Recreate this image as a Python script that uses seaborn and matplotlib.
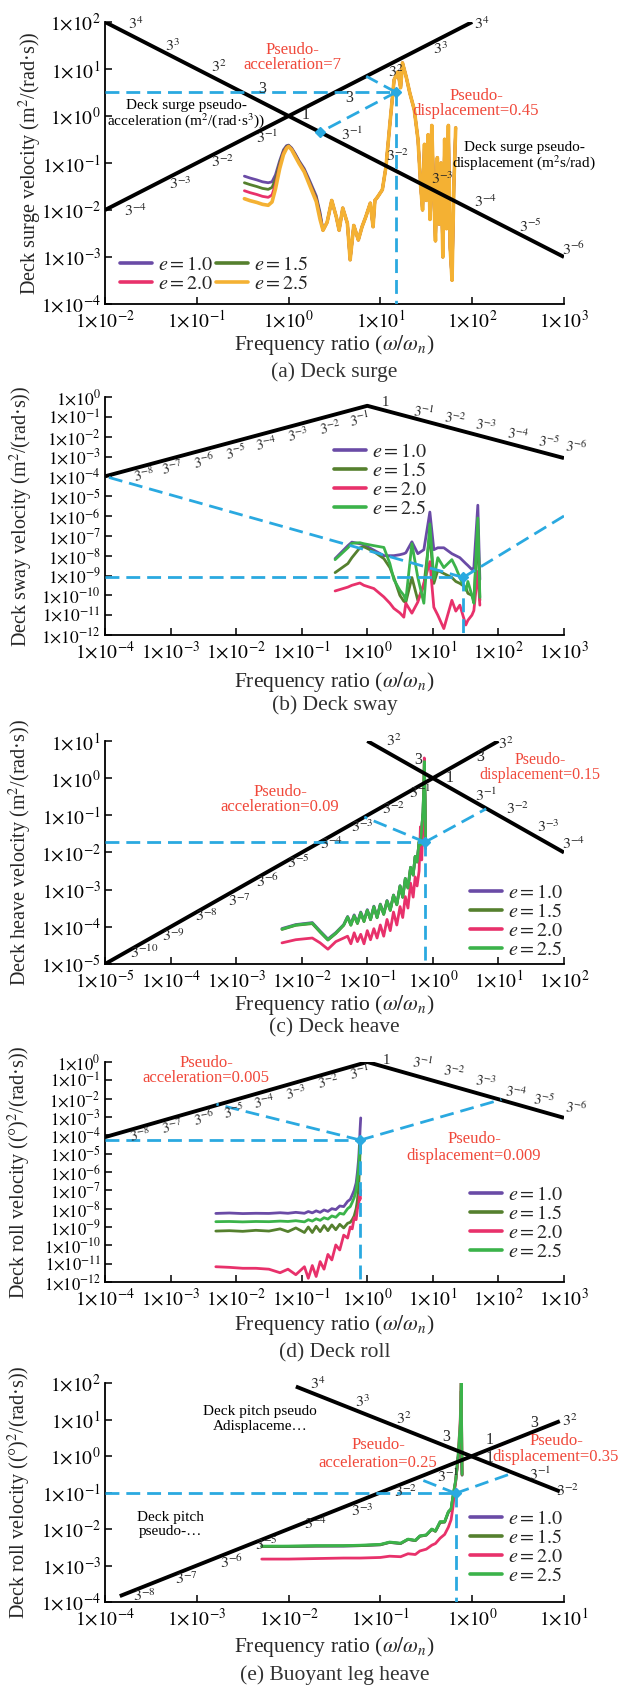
import numpy as np
import pandas as pd
import matplotlib
matplotlib.use("Agg")
import matplotlib.pyplot as plt
import seaborn as sns
from matplotlib.ticker import NullLocator

# ---------------------------------------------------------------- data
E_LEVELS = ["1.0", "1.5", "2.0", "2.5"]

# (a) Deck surge -- low-frequency part (per series) + shared high part
surge_x_low = [0.33, 0.38, 0.45, 0.52, 0.60, 0.66, 0.72, 0.80, 0.88, 0.95, 1.0,
               1.08, 1.18, 1.3, 1.48, 1.7, 2.0, 2.2]
surge_e10_low = [0.0525, 0.0479, 0.0437, 0.0398, 0.0380, 0.0398, 0.0562, 0.112, 0.191,
                 0.234, 0.240, 0.209, 0.158, 0.112, 0.0759, 0.0417, 0.0200, 0.00891]
surge_e15_low = [0.0380, 0.0347, 0.0316, 0.0288, 0.0275, 0.0302, 0.0447, 0.100, 0.178,
                 0.224, 0.234, 0.200, 0.151, 0.107, 0.0708, 0.0380, 0.0182, 0.00794]
surge_e20_low = [0.0257, 0.0234, 0.0214, 0.0195, 0.0186, 0.0209, 0.0355, 0.0871, 0.166,
                 0.214, 0.229, 0.195, 0.145, 0.102, 0.0676, 0.0355, 0.0166, 0.00708]
surge_e25_low = [0.0174, 0.0158, 0.0145, 0.0132, 0.0126, 0.0148, 0.0282, 0.0759, 0.151,
                 0.204, 0.224, 0.191, 0.138, 0.0977, 0.0646, 0.0331, 0.0151, 0.00631]
surge_x_tail = [2.37, 2.63, 2.95, 3.31, 3.55, 3.89, 4.37, 4.68, 5.13, 5.75, 6.31, 6.92,
                7.76, 8.32, 8.71, 9.33, 10.5, 11.5, 12.6, 14.1, 15.5, 16.6, 17.4, 19.1,
                20.9, 23.4, 25.7, 27.5, 28.8, 30.2, 31.6, 33.1, 34.7, 36.3, 38.0, 39.8,
                41.7, 43.7, 45.7, 47.9, 50.1, 52.5, 55.0, 57.5, 60.3, 63.1, 66.1]
surge_vel_tail = [3.7e-3, 5.5e-3, 1.6e-2, 7.1e-3, 3.7e-3, 1.1e-2, 5.2e-3, 8.7e-4, 4.7e-3,
                  2.3e-3, 4.4e-3, 7.1e-3, 1.4e-2, 4.4e-3, 1.6e-2, 1.9e-2, 2.7e-2, 8.3e-2,
                  0.59, 5.9, 8.7, 4.0, 13.5, 6.8, 3.1, 1.35, 0.31, 3.1e-2, 1.0e-2, 0.25,
                  1.6e-2, 0.4, 6.3e-3, 0.63, 2.5e-2, 2.2e-3, 0.13, 5.0e-3, 0.1, 1.0e-3,
                  0.32, 4.0e-3, 0.63, 1.6e-3, 3.2e-4, 3.2e-2, 0.56]

# (b) Deck sway
sway_x = [0.323, 0.506, 0.582, 0.771, 0.887, 1.26, 1.79, 2.21, 2.54, 3.14, 3.61, 3.87,
          4.79, 5.90, 7.29, 9.0, 10.35, 11.9, 14.7, 19.5, 22.4, 25.8, 31.8, 34.2, 39.4,
          42.2, 48.5, 52.1]
sway_e10 = [7.1e-9, 3.2e-8, 4.8e-8, 4.0e-8, 3.5e-8, 1.9e-8, 1.0e-8, 1.0e-8, 1.0e-8,
            1.12e-8, 1.26e-8, 1.4e-8, 5.0e-8, 1.26e-8, 2.0e-8, 1.58e-6, 2.0e-8, 2.5e-8,
            2.5e-8, 1.26e-8, 1.0e-8, 7.9e-9, 4.0e-9, 3.2e-9, 2.0e-9, 2.5e-9, 3.5e-6, 6.3e-10]
sway_e15 = [1.4e-9, 4.0e-9, 7.9e-9, 2.5e-8, 2.8e-8, 1.6e-8, 7.1e-9, 2.5e-9, 7.9e-10,
            1.0e-10, 5.0e-11, 4.5e-11, 7.9e-10, 5.6e-11, 3.2e-10, 1.26e-7, 4.0e-10, 1.8e-9,
            1.26e-9, 7.9e-10, 5.0e-10, 4.0e-10, 2.5e-10, 1.26e-10, 1.0e-10, 5.6e-11,
            2.0e-7, 5.6e-11]
sway_e20 = [1.66e-10, 2.6e-10, 3.2e-10, 4.2e-10, 3.2e-10, 2.2e-10, 8.3e-11, 4.0e-11,
            2.2e-11, 1.3e-11, 7.9e-12, 4.0e-11, 1.26e-11, 4.6e-11, 4.0e-10, 5.0e-9,
            2.5e-11, 1.0e-11, 2.1e-12, 5.6e-11, 1.6e-11, 3.2e-11, 3.2e-12, 5.5e-12,
            1.0e-11, 1.7e-11, 1.6e-9, 3.2e-11]
sway_e25 = [6.3e-9, 2.5e-8, 4.2e-8, 4.5e-8, 4.0e-8, 3.2e-8, 2.6e-8, 4.0e-9, 6.3e-10,
            1.8e-10, 1.0e-10, 5.6e-11, 4.0e-8, 7.9e-10, 4.0e-11, 4.0e-7, 6.3e-10, 7.9e-9,
            2.5e-9, 6.3e-9, 2.5e-9, 7.9e-10, 1.8e-10, 5.0e-10, 1.0e-10, 4.0e-11, 7.9e-7,
            7.9e-11]

# (c) Deck heave
heave_x = [0.0050, 0.0081, 0.0145, 0.0191, 0.0251, 0.0331, 0.0437, 0.0501, 0.0562, 0.0631,
           0.0708, 0.0794, 0.0891, 0.100, 0.112, 0.126, 0.141, 0.158, 0.178, 0.200, 0.224,
           0.251, 0.282, 0.316, 0.347, 0.380, 0.417, 0.457, 0.501, 0.537, 0.575, 0.617,
           0.646, 0.676, 0.708, 0.724, 0.741, 0.759, 0.776]
heave_e10 = [9.0e-5, 1.15e-4, 1.3e-4, 7.7e-5, 4.7e-5, 7.0e-5, 1.15e-4, 1.9e-4, 1.2e-4,
             2.1e-4, 1.3e-4, 2.5e-4, 1.5e-4, 2.9e-4, 1.6e-4, 3.6e-4, 1.85e-4, 4.1e-4,
             2.3e-4, 5.1e-4, 2.9e-4, 7.2e-4, 4.1e-4, 1.28e-3, 6.4e-4, 2.0e-3, 1.14e-3,
             4.0e-3, 2.5e-3, 7.8e-3, 5.6e-3, 1.9e-2, 1.5e-2, 4.3e-2, 0.115, 0.40, 0.85,
             0.30, 2.2e-2]
heave_e15 = [8.5e-5, 1.1e-4, 1.22e-4, 7.2e-5, 4.4e-5, 6.6e-5, 1.1e-4, 1.8e-4, 1.1e-4,
             1.95e-4, 1.22e-4, 2.35e-4, 1.38e-4, 2.75e-4, 1.55e-4, 3.4e-4, 1.75e-4, 3.9e-4,
             2.15e-4, 4.9e-4, 2.75e-4, 7.0e-4, 3.9e-4, 1.24e-3, 6.2e-4, 1.95e-3, 1.1e-3,
             3.9e-3, 2.45e-3, 7.7e-3, 5.5e-3, 1.95e-2, 1.55e-2, 4.4e-2, 0.12, 0.48, 2.4,
             0.38, 2.4e-2]
heave_e20 = [3.7e-5, 4.5e-5, 5.0e-5, 3.7e-5, 2.5e-5, 4.0e-5, 5.0e-5, 5.6e-5, 3.5e-5,
             6.9e-5, 4.0e-5, 6.3e-5, 3.5e-5, 7.9e-5, 4.5e-5, 8.9e-5, 5.0e-5, 1.12e-4,
             5.6e-5, 1.58e-4, 7.9e-5, 2.5e-4, 1.12e-4, 3.5e-4, 1.78e-4, 6.5e-4, 3.2e-4,
             1.5e-3, 6.3e-4, 2.2e-3, 1.26e-3, 3.2e-3, 4.9e-2, 6.3e-3, 6.3e-2, 0.16, 3.5,
             0.1, 1.26e-2]
heave_e25 = [8.7e-5, 1.12e-4, 1.26e-4, 7.4e-5, 4.5e-5, 6.8e-5, 1.12e-4, 1.86e-4, 1.12e-4,
             2.0e-4, 1.26e-4, 2.4e-4, 1.41e-4, 2.8e-4, 1.58e-4, 3.5e-4, 1.78e-4, 4.0e-4,
             2.2e-4, 5.0e-4, 2.8e-4, 7.1e-4, 4.0e-4, 1.26e-3, 6.3e-4, 2.0e-3, 1.12e-3,
             4.0e-3, 2.5e-3, 7.9e-3, 5.6e-3, 2.0e-2, 1.58e-2, 4.5e-2, 0.126, 0.50, 2.8,
             0.40, 2.5e-2]

# (d) Deck roll
roll_x = [0.0049, 0.0079, 0.0126, 0.0200, 0.0316, 0.0468, 0.0617, 0.0813, 0.110, 0.126,
          0.145, 0.166, 0.191, 0.219, 0.251, 0.288, 0.331, 0.380, 0.437, 0.501, 0.550,
          0.589, 0.631, 0.676, 0.708, 0.741, 0.759, 0.776, 0.794]
roll_e10 = [5.5e-9, 5.8e-9, 5.4e-9, 5.6e-9, 5.5e-9, 6.0e-9, 5.6e-9, 6.3e-9, 5.6e-9, 7.0e-9,
            5.9e-9, 7.6e-9, 6.3e-9, 8.5e-9, 7.1e-9, 1.0e-8, 8.9e-9, 1.4e-8, 1.3e-8, 2.5e-8,
            3.2e-8, 5.5e-8, 1.0e-7, 2.5e-7, 1.0e-6, 6.0e-6, 3.0e-5, 2.0e-4, 8.9e-4]
roll_e15 = [6.0e-10, 6.3e-10, 5.8e-10, 6.6e-10, 6.0e-10, 7.9e-10, 5.6e-10, 8.9e-10,
            5.0e-10, 1.0e-9, 5.0e-10, 1.1e-9, 5.6e-10, 1.2e-9, 6.3e-10, 1.3e-9, 7.1e-10,
            1.4e-9, 8.9e-10, 1.6e-9, 1.8e-9, 2.5e-9, 4.0e-9, 1.0e-8, 3.0e-8, 2.0e-7,
            1.5e-6, 1.2e-5, 3.2e-5]
roll_e20 = [6.8e-12, 6.3e-12, 5.6e-12, 5.6e-12, 5.0e-12, 3.2e-12, 5.0e-12, 2.5e-12,
            6.8e-12, 1.6e-12, 7.9e-12, 2.0e-12, 1.3e-11, 5.0e-12, 3.2e-11, 1.6e-11,
            1.05e-10, 5.6e-11, 3.6e-10, 2.5e-10, 1.0e-9, 7.9e-10, 3.2e-9, 2.5e-9, 1.0e-8,
            1.6e-8, 5.5e-8, 3.2e-8, 1.0e-7]
roll_e25 = [1.95e-9, 2.0e-9, 1.9e-9, 2.0e-9, 1.95e-9, 2.1e-9, 2.0e-9, 2.2e-9, 1.9e-9,
            2.5e-9, 2.1e-9, 2.8e-9, 2.3e-9, 3.2e-9, 2.7e-9, 4.0e-9, 3.4e-9, 5.6e-9, 5.0e-9,
            1.0e-8, 1.3e-8, 2.2e-8, 4.0e-8, 1.0e-7, 4.0e-7, 2.0e-6, 1.0e-5, 4.0e-5, 5.5e-5]

# (e) Buoyant leg heave
leg_x = [0.0051, 0.0100, 0.0200, 0.0398, 0.0603, 0.100, 0.126, 0.166, 0.200, 0.240,
         0.269, 0.316, 0.363, 0.398, 0.447, 0.501, 0.550, 0.589, 0.617, 0.661, 0.700,
         0.741, 0.759, 0.776]
leg_e10 = [3.3e-3, 3.3e-3, 3.4e-3, 3.4e-3, 3.5e-3, 3.7e-3, 4.3e-3, 4.0e-3, 5.2e-3, 4.8e-3,
           6.4e-3, 6.8e-3, 9.8e-3, 8.7e-3, 1.55e-2, 1.55e-2, 2.9e-2, 3.5e-2, 7.6e-2, 0.21,
           0.9, 1.5, 1.0, 0.3]
leg_e15 = [3.3e-3, 3.35e-3, 3.4e-3, 3.45e-3, 3.5e-3, 3.7e-3, 4.3e-3, 4.0e-3, 5.2e-3,
           4.8e-3, 6.3e-3, 6.8e-3, 9.7e-3, 8.6e-3, 1.5e-2, 1.55e-2, 2.9e-2, 3.5e-2, 7.5e-2,
           0.2, 0.8, 5.0, 60, 0.3]
leg_e20 = [1.5e-3, 1.5e-3, 1.55e-3, 1.6e-3, 1.6e-3, 1.66e-3, 1.8e-3, 1.74e-3, 2.1e-3,
           2.0e-3, 2.5e-3, 2.8e-3, 3.6e-3, 4.0e-3, 5.6e-3, 7.1e-3, 1.12e-2, 1.8e-2, 4.0e-2,
           0.22, 0.79, 10, 126, 0.32]
leg_e25 = [3.4e-3, 3.4e-3, 3.5e-3, 3.5e-3, 3.6e-3, 3.8e-3, 4.4e-3, 4.1e-3, 5.3e-3, 4.9e-3,
           6.5e-3, 6.9e-3, 1.0e-2, 8.9e-3, 1.6e-2, 1.6e-2, 3.0e-2, 3.6e-2, 8.0e-2, 0.22,
           0.93, 7.9, 100, 0.32]

# reference (tripartite) lines: x and y of vertices
surge_acc_line = ([1e-2, 1e3], [1e2, 1e-3])
surge_disp_line = ([1e-2, 1e2], [1e-2, 1e2])
sway_ref_line = ([1e-4, 1.0, 1e3], [1e-4, 0.36, 8.3e-4])
heave_acc_line = ([1e-5, 10], [1e-5, 10])
heave_disp_line = ([0.1, 100], [10, 0.01])
roll_ref_line = ([1e-4, 1.0, 1e3], [8e-5, 1.0, 9e-4])
leg_disp_line = ([0.012, 9], [80, 0.107])
leg_acc_line = ([1.45e-4, 9], [1.45e-4, 9])

# dominant points and pseudo-value points
surge_pt, surge_acc_pt, surge_disp_pt = (14.8, 3.2), (7.0, 7.0), (2.2, 0.45)
sway_pt, sway_l_pt, sway_r_pt = (29, 8e-10), (1e-4, 1e-4), (1e3, 1e-6)
heave_pt, heave_acc_pt, heave_disp_pt = (0.76, 0.019), (0.09, 0.09), (6.5, 0.15)
roll_pt, roll_acc_pt, roll_disp_pt = (0.78, 5.5e-5), (0.005, 0.005), (111, 0.009)
leg_pt, leg_acc_pt, leg_disp_pt = (0.66, 0.095), (0.25, 0.25), (2.85, 0.35)

# ---------------------------------------------------------------- style
sns.set_theme(style="ticks")
plt.rcParams["font.family"] = ["Liberation Serif", "DejaVu Serif"]
plt.rcParams["mathtext.fontset"] = "stix"

PURPLE, OLIVE, PINK, ORANGE, LGREEN = "#6a4ba6", "#55802e", "#e8316b", "#f4b133", "#3bb34a"
BLUE, RED = "#2aa9e0", "#f0483a"
W, H = 620, 1685
fig = plt.figure(figsize=(W / 100, H / 100), dpi=100)


def make_ax(top, bottom):
    return fig.add_axes([105 / W, 1 - bottom / H, 459 / W, (bottom - top) / H])


def fx(px):
    return px / W


def fy(py):
    return 1 - py / H


def style(ax, xr, yr, ylabel, ylab_px, xlab_off, caption, cap_y, ytick_size=14):
    ax.set_xscale("log")
    ax.set_yscale("log")
    ax.set_xlim(10.0 ** xr[0], 10.0 ** xr[1])
    ax.set_ylim(10.0 ** yr[0], 10.0 ** yr[1])
    xt = list(range(xr[0], xr[1] + 1))
    yt = list(range(yr[0], yr[1] + 1))
    ax.set_xticks([10.0 ** k for k in xt])
    ax.set_xticklabels([r"$1{\times}10^{%d}$" % k for k in xt])
    ax.set_yticks([10.0 ** k for k in yt])
    ax.set_yticklabels([r"$1{\times}10^{%d}$" % k for k in yt])
    ax.xaxis.set_minor_locator(NullLocator())
    ax.yaxis.set_minor_locator(NullLocator())
    for s in ["top", "right"]:
        ax.spines[s].set_visible(False)
    for s in ["left", "bottom"]:
        ax.spines[s].set_linewidth(1.3)
        ax.spines[s].set_color("black")
    ax.tick_params(direction="in", length=5, width=1.1, pad=3, colors="black")
    ax.tick_params(axis="x", labelsize=14, pad=4)
    ax.tick_params(axis="y", labelsize=ytick_size)
    ax.set_ylabel(ylabel, fontsize=14.5)
    ax.yaxis.label.set_va("center")
    ax.yaxis.set_label_coords((ylab_px - 105) / 459, 0.5)
    ax.set_xlabel(r"Frequency ratio ($\omega/\omega_n$)", fontsize=15.5)
    bb = ax.get_position()
    hpx = bb.height * H
    ax.xaxis.set_label_coords(0.5, -xlab_off / hpx)
    ax.xaxis.label.set_va("center")
    fig.text(fx(334.5), fy(cap_y), caption, ha="center", va="center", fontsize=15.5,
             color="#333333")
    ax.set_facecolor("none")


def series(ax, x, y, color, label, lw=2.0):
    df = pd.DataFrame({"freq": x, "vel": y})
    sns.lineplot(data=df, x="freq", y="vel", ax=ax, color=color, lw=lw, label=label,
                 estimator=None, sort=False)


def black(ax, line):
    ax.plot(line[0], line[1], color="black", lw=2.8, zorder=4, solid_capstyle="butt")


def dashed(ax, p, q, zorder=5):
    ax.plot([p[0], q[0]], [p[1], q[1]], color=BLUE, lw=2.0, ls=(0, (5, 2.5)), zorder=zorder)


def pointer(ax, pt, ends, xmin, ymin):
    dashed(ax, (xmin, pt[1]), pt)
    dashed(ax, pt, (pt[0], ymin))
    for e in ends:
        dashed(ax, pt, e)
    ax.plot([pt[0]], [pt[1]], marker="D", ms=5, color=BLUE, zorder=6)


def labels(items, size=11.5, rot=0):
    for s, px, py in items:
        fig.text(fx(px), fy(py), s, ha="center", va="center", fontsize=size, rotation=rot,
                 zorder=10)


def note(lines, px, py, color=RED, size=12, step=15):
    for i, s in enumerate(lines):
        fig.text(fx(px), fy(py + i * step), s, ha="center", va="center", fontsize=size,
                 color=color, zorder=10)


def legend(ax, px, py, ncol=1, order=None):
    h, l = ax.get_legend_handles_labels()
    if order is not None:
        h = [h[i] for i in order]
        l = [l[i] for i in order]
    ax.legend(h, l, loc="upper left", bbox_to_anchor=(fx(px), fy(py)),
              bbox_transform=fig.transFigure, ncol=ncol, frameon=False, fontsize=14.5,
              handlelength=1.6, handletextpad=0.3, columnspacing=0.1, labelspacing=0.0,
              borderpad=0, borderaxespad=0)
    for line in ax.get_legend().get_lines():
        line.set_linewidth(2.6)


def elab(v):
    return r"$e=%s$" % v


# ---------------------------------------------------------------- (a)
ax = make_ax(22, 304)
series(ax, surge_x_low + surge_x_tail, surge_e10_low + surge_vel_tail, PURPLE, elab("1.0"))
series(ax, surge_x_low + surge_x_tail, surge_e15_low + surge_vel_tail, OLIVE, elab("1.5"))
series(ax, surge_x_low + surge_x_tail, surge_e20_low + surge_vel_tail, PINK, elab("2.0"))
series(ax, surge_x_low + surge_x_tail, surge_e25_low + surge_vel_tail, ORANGE, elab("2.5"),
       lw=2.6)
black(ax, surge_acc_line)
black(ax, surge_disp_line)
pointer(ax, surge_pt, [surge_acc_pt, surge_disp_pt], 1e-2, 1e-4)
ax.plot([surge_disp_pt[0]], [surge_disp_pt[1]], marker="D", ms=5, color=BLUE, zorder=6)
style(ax, (-2, 3), (-4, 2), r"Deck surge velocity (m$^2$/(rad·s))", 30, 41,
      "(a) Deck surge", 372)
legend(ax, 120, 256, ncol=2, order=[0, 2, 1, 3])
labels([("$3^{4}$", 136, 25), ("$3^{3}$", 172, 47), ("$3^{2}$", 219, 68), ("3", 262, 89),
        ("1", 306, 115), ("$3^{-1}$", 352, 135), ("$3^{-2}$", 398, 157),
        ("$3^{-3}$", 442, 180), ("$3^{-4}$", 486, 203), ("$3^{-5}$", 530, 227),
        ("$3^{-6}$", 574, 250),
        ("$3^{-4}$", 136, 212), ("$3^{-3}$", 180, 185), ("$3^{-2}$", 223, 163),
        ("$3^{-1}$", 267, 138), ("3", 349, 98), ("$3^{2}$", 396, 73), ("$3^{3}$", 440, 50),
        ("$3^{4}$", 482, 25)])
note(["Pseudo-", "acceleration=7"], 292, 50)
note(["Pseudo-", "displacement=0.45"], 476, 96)
note(["Deck surge pseudo-", "acceleration (m$^2$/(rad·s$^3$))"], 186, 106, color="black",
     size=11, step=15)
note(["Deck surge pseudo-", "displacement (m$^2$s/rad)"], 524, 147, color="black",
     size=11, step=16)

# ---------------------------------------------------------------- (b)
ax = make_ax(397, 635)
series(ax, sway_x, sway_e10, PURPLE, elab("1.0"))
series(ax, sway_x, sway_e15, OLIVE, elab("1.5"))
series(ax, sway_x, sway_e20, PINK, elab("2.0"))
series(ax, sway_x, sway_e25, LGREEN, elab("2.5"))
black(ax, sway_ref_line)
pointer(ax, sway_pt, [sway_l_pt, sway_r_pt], 1e-4, 1e-12)
style(ax, (-4, 3), (-12, 0), r"Deck sway velocity (m$^2$/(rad·s))", 21, 47,
      "(b) Deck sway", 705, ytick_size=12.5)
legend(ax, 334, 443)
labels([("$3^{-8}$", 144, 475), ("$3^{-7}$", 172, 468), ("$3^{-6}$", 204, 461),
        ("$3^{-5}$", 236, 453), ("$3^{-4}$", 266, 444), ("$3^{-3}$", 298, 435),
        ("$3^{-2}$", 330, 428), ("$3^{-1}$", 360, 420)], size=10.5, rot=10)
labels([("1", 385, 403)], size=10.5)
labels([("$3^{-1}$", 423, 412), ("$3^{-2}$", 455, 419), ("$3^{-3}$", 486, 426),
        ("$3^{-4}$", 518, 435), ("$3^{-5}$", 549, 442), ("$3^{-6}$", 576, 447)], size=10.5,
       rot=-10)

# ---------------------------------------------------------------- (c)
ax = make_ax(741, 964)
series(ax, heave_x, heave_e10, PURPLE, elab("1.0"))
series(ax, heave_x, heave_e15, OLIVE, elab("1.5"))
series(ax, heave_x, heave_e20, PINK, elab("2.0"))
series(ax, heave_x, heave_e25, LGREEN, elab("2.5"))
black(ax, heave_acc_line)
black(ax, heave_disp_line)
pointer(ax, heave_pt, [heave_acc_pt, heave_disp_pt], 1e-5, 1e-5)
style(ax, (-5, 2), (-5, 1), r"Deck heave velocity (m$^2$/(rad·s))", 20, 41,
      "(c) Deck heave", 1028)
legend(ax, 470, 884)
labels([("$3^{-10}$", 144, 953), ("$3^{-9}$", 174, 937), ("$3^{-8}$", 206, 917),
        ("$3^{-7}$", 239, 902), ("$3^{-6}$", 268, 882), ("$3^{-5}$", 298, 863),
        ("$3^{-4}$", 332, 845), ("$3^{-3}$", 362, 828), ("$3^{-2}$", 394, 810),
        ("$3^{-1}$", 420, 793), ("3", 480, 757), ("$3^{2}$", 506, 745),
        ("$3^{2}$", 394, 742), ("3", 418, 760), ("1", 450, 778), ("$3^{-1}$", 486, 796),
        ("$3^{-2}$", 518, 810), ("$3^{-3}$", 548, 828), ("$3^{-4}$", 574, 845)])
note(["Pseudo-", "acceleration=0.09"], 280, 792)
note(["Pseudo-", "displacement=0.15"], 540, 760, size=11.5)

# ---------------------------------------------------------------- (d)
ax = make_ax(1062, 1282)
series(ax, roll_x, roll_e10, PURPLE, elab("1.0"))
series(ax, roll_x, roll_e15, OLIVE, elab("1.5"))
series(ax, roll_x, roll_e20, PINK, elab("2.0"))
series(ax, roll_x, roll_e25, LGREEN, elab("2.5"))
black(ax, roll_ref_line)
pointer(ax, roll_pt, [roll_acc_pt, roll_disp_pt], 1e-4, 1e-12)
style(ax, (-4, 3), (-12, 0), r"Deck roll velocity ((°)$^2$/(rad·s))", 19, 43,
      "(d) Deck roll", 1353, ytick_size=12)
legend(ax, 470, 1186)
labels([("$3^{-8}$", 140, 1135), ("$3^{-7}$", 172, 1127), ("$3^{-6}$", 204, 1118),
        ("$3^{-5}$", 234, 1112), ("$3^{-4}$", 264, 1102), ("$3^{-3}$", 296, 1093),
        ("$3^{-2}$", 328, 1082), ("$3^{-1}$", 360, 1073)], size=10.5, rot=10)
labels([("1", 386, 1060)], size=10.5)
labels([("$3^{-1}$", 422, 1063), ("$3^{-2}$", 454, 1072), ("$3^{-3}$", 486, 1082),
        ("$3^{-4}$", 516, 1093), ("$3^{-5}$", 544, 1100), ("$3^{-6}$", 576, 1108)],
       size=10.5, rot=-10)
note(["Pseudo-", "acceleration=0.005"], 206, 1063)
note(["Pseudo-", "displacement=0.009"], 474, 1139, step=17)

# ---------------------------------------------------------------- (e)
ax = make_ax(1383, 1602)
series(ax, leg_x, leg_e10, PURPLE, elab("1.0"))
series(ax, leg_x, leg_e15, OLIVE, elab("1.5"))
series(ax, leg_x, leg_e20, PINK, elab("2.0"))
series(ax, leg_x, leg_e25, LGREEN, elab("2.5"))
black(ax, leg_disp_line)
black(ax, leg_acc_line)
pointer(ax, leg_pt, [leg_acc_pt, leg_disp_pt], 1e-4, 1e-4)
style(ax, (-4, 1), (-4, 2), r"Deck roll velocity ((°)$^2$/(rad·s))", 19, 45,
      "(e) Buoyant leg heave", 1675)
legend(ax, 470, 1510)
labels([("$3^{-8}$", 144, 1597), ("$3^{-7}$", 186, 1580), ("$3^{-6}$", 232, 1563),
        ("$3^{-5}$", 266, 1545), ("$3^{-4}$", 316, 1525), ("$3^{-3}$", 362, 1512),
        ("$3^{-2}$", 406, 1493), ("$3^{-1}$", 448, 1477), ("1", 490, 1458),
        ("3", 534, 1423), ("$3^{2}$", 570, 1422),
        ("$3^{4}$", 318, 1385), ("$3^{3}$", 362, 1403), ("$3^{2}$", 404, 1420),
        ("3", 446, 1437), ("1", 490, 1440), ("$3^{-1}$", 540, 1475), ("$3^{-2}$", 568, 1492)])
note(["Pseudo-", "acceleration=0.25"], 378, 1445, step=18)
note(["Pseudo-", "displacement=0.35"], 556, 1441, step=16)
note(["Deck pitch pseudo", "Adisplaceme…"], 260, 1411, color="black", size=11, step=15)
note(["Deck pitch", "pseudo-…"], 170, 1517, color="black", size=11, step=14)

fig.savefig("out.png", dpi=100)
